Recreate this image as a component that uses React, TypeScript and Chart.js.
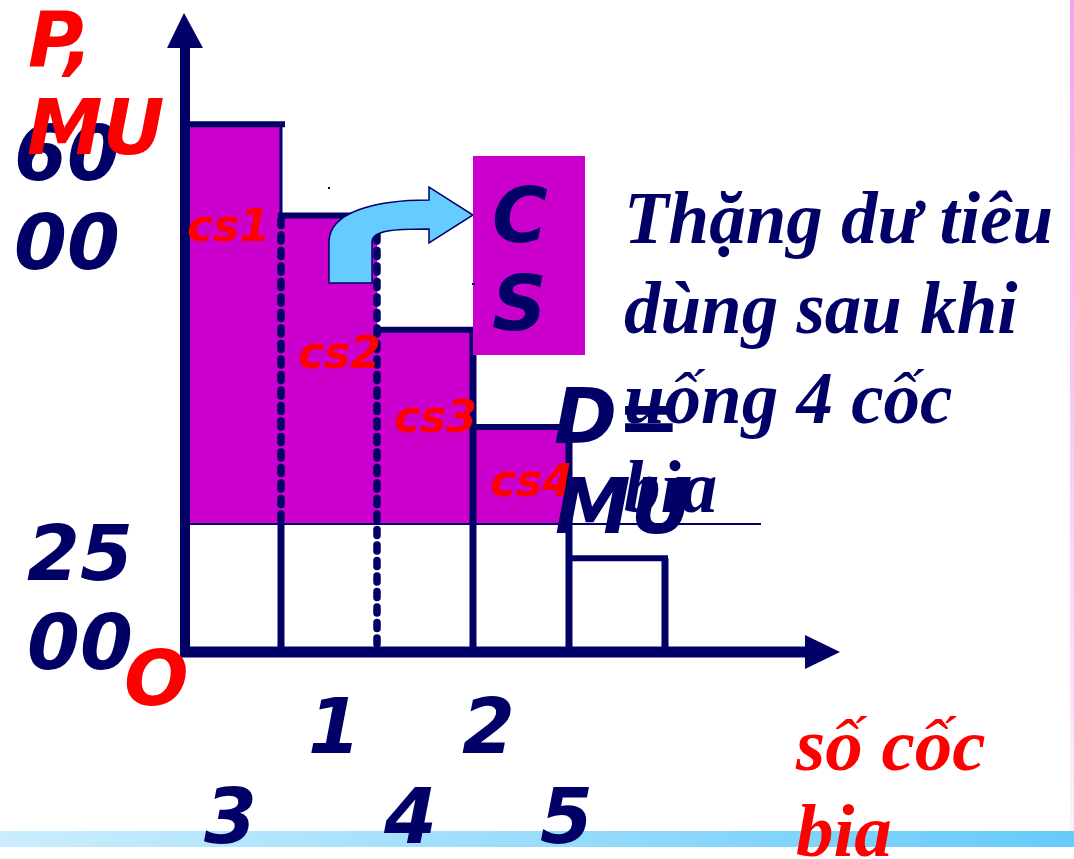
import React, { useEffect, useRef } from 'react';
import { Chart, registerables } from 'chart.js';

Chart.register(...registerables);

// ---- data ----
const cups = [1, 2, 3, 4, 5];
const marginalUtility = [6000, 5200, 4200, 3350, 2200];
const price = 2500;
const yTickValues = [6000, 2500];
const yTickLabels = [['60', '00'], ['25', '00']];
const xTickLabels = ['1', '2', '3', '4', '5'];
const csLabels = ['cs1', 'cs2', 'cs3', 'cs4'];
const yAxisTitle = ['P,', 'MU'];
const xAxisTitle = ['số cốc', 'bia'];
const demandLabel = ['D=', 'MU'];
const csBoxLabel = ['C', 'S'];
const noteLines = ['Thặng dư tiêu', 'dùng sau khi', 'uống 4 cốc', 'bia'];
const originLabel = 'O';

const NAVY = '#000066';
const MAGENTA = '#CC00CC';
const RED = '#FF0000';
const SANS = '"DejaVu Sans", Verdana, sans-serif';
const SERIF = '"Liberation Serif", "Times New Roman", serif';

const decoPlugin = {
  id: 'deco',
  beforeDraw(chart: any) {
    const ctx = chart.ctx as CanvasRenderingContext2D;
    const W = chart.width, H = chart.height;
    ctx.save();
    ctx.fillStyle = '#ffffff';
    ctx.fillRect(0, 0, W, H);
    const g = ctx.createLinearGradient(0, 0, W, 0);
    g.addColorStop(0, '#cbedfd');
    g.addColorStop(1, '#66cbfa');
    ctx.fillStyle = g;
    ctx.fillRect(0, 831, W, 16);
    const p = ctx.createLinearGradient(0, 0, 0, 831);
    p.addColorStop(0, '#f3a2ef');
    p.addColorStop(1, '#fdf0fc');
    ctx.fillStyle = p;
    ctx.fillRect(W - 4, 0, 4, 831);
    ctx.restore();
  },
  afterDatasetsDraw(chart: any) {
    const ctx = chart.ctx as CanvasRenderingContext2D;
    const xs = chart.scales.x, ys = chart.scales.y;
    const X = (v: number) => xs.getPixelForValue(v);
    const Y = (v: number) => ys.getPixelForValue(v);
    const base = ys.bottom;
    const line = (x1: number, y1: number, x2: number, y2: number, w: number, dash: number[] = [], cap: CanvasLineCap = 'butt') => {
      ctx.save();
      ctx.strokeStyle = NAVY;
      ctx.lineWidth = w;
      ctx.setLineDash(dash);
      ctx.lineCap = cap;
      ctx.beginPath();
      ctx.moveTo(x1, y1);
      ctx.lineTo(x2, y2);
      ctx.stroke();
      ctx.restore();
    };
    const dotted = (x: number, y1: number, y2: number) => line(x, y1 + 4, x, y2 - 4, 7.5, [6, 9.5], 'round');

    // price line
    line(X(0), Y(price), X(6), Y(price), 2);

    // bar tops
    marginalUtility.forEach((m, i) => {
      line(X(i) - (i === 0 ? 4 : 3), Y(m), X(i + 1) + (i === 0 ? 4 : 3), Y(m), 6);
    });

    // vertical edges (right side of each bar)
    marginalUtility.forEach((m, i) => {
      const xr = X(i + 1);
      if (i === 0) {
        line(xr, Y(m), xr, Y(marginalUtility[1]), 3);
        dotted(xr, Y(marginalUtility[1]), Y(price));
        line(xr, Y(price), xr, base, 7);
      } else if (i === 1) {
        dotted(xr, Y(m), base);
      } else {
        line(xr, Y(m), xr, base, 7);
      }
    });

    // axes with arrows
    const ax = X(0);
    line(ax, base + 5, ax, ys.top + 36, 10);
    line(ax - 5, base, xs.right - 34, base, 11);
    ctx.save();
    ctx.fillStyle = NAVY;
    ctx.beginPath();
    ctx.moveTo(ax - 1, ys.top + 3);
    ctx.lineTo(ax - 18, ys.top + 38);
    ctx.lineTo(ax + 18, ys.top + 38);
    ctx.closePath();
    ctx.fill();
    ctx.beginPath();
    ctx.moveTo(xs.right, base);
    ctx.lineTo(xs.right - 35, base - 17);
    ctx.lineTo(xs.right - 35, base + 17);
    ctx.closePath();
    ctx.fill();
    ctx.restore();

    // curved block arrow
    ctx.save();
    ctx.beginPath();
    ctx.moveTo(329, 283);
    ctx.lineTo(329, 242);
    ctx.bezierCurveTo(329, 212, 375, 200, 429, 200);
    ctx.lineTo(429, 187);
    ctx.lineTo(473, 215);
    ctx.lineTo(429, 243);
    ctx.lineTo(429, 229);
    ctx.bezierCurveTo(395, 229, 372, 230, 372, 242);
    ctx.lineTo(372, 283);
    ctx.closePath();
    ctx.fillStyle = '#66CCFF';
    ctx.fill();
    ctx.strokeStyle = NAVY;
    ctx.lineWidth = 1.5;
    ctx.stroke();
    // CS box
    ctx.fillStyle = MAGENTA;
    ctx.fillRect(473, 156, 112, 199);
    // tiny stray marks
    ctx.fillStyle = NAVY;
    ctx.fillRect(328, 187, 2, 2);
    ctx.fillRect(472, 283, 3, 2);
    ctx.restore();

    const txt = (s: string, x: number, y: number, font: string, color: string) => {
      ctx.save();
      ctx.font = font;
      ctx.fillStyle = color;
      ctx.textBaseline = 'alphabetic';
      ctx.textAlign = 'left';
      ctx.fillText(s, x, y);
      ctx.restore();
    };
    const big = `italic bold 76px ${SANS}`;
    const small = `italic bold 44px ${SANS}`;
    const serif = `italic bold 73px ${SERIF}`;
    const serifRed = `italic bold 75px ${SERIF}`;

    // cs labels
    const csPos = [[187, 241], [298, 368], [394, 432], [490, 496]];
    csLabels.forEach((s, i) => txt(s, csPos[i][0], csPos[i][1], small, RED));

    // y tick labels (top of text at tick value)
    const yTickX = [14, 27];
    yTickValues.forEach((v, i) => {
      const top = Y(v);
      txt(yTickLabels[i][0], yTickX[i], top + 56, big, NAVY);
      txt(yTickLabels[i][1], yTickX[i], top + 145, big, NAVY);
    });

    // x tick labels (wrapped text box)
    const xPos = [[308, 753], [462, 753], [204, 843], [384, 843], [540, 843]];
    xTickLabels.forEach((s, i) => txt(s, xPos[i][0], xPos[i][1], big, NAVY));

    txt(originLabel, 124, 705, big, RED);
    txt(yAxisTitle[0], 28, 66, big, RED);
    txt(yAxisTitle[1], 27, 154, big, RED);

    txt(csBoxLabel[0], 492, 242, big, NAVY);
    txt(csBoxLabel[1], 492, 330, big, NAVY);

    const noteY = [243, 333, 423, 512];
    noteLines.forEach((s, i) => txt(s, 624, noteY[i], serif, NAVY));

    txt(demandLabel[0], 554, 443, big, NAVY);
    txt(demandLabel[1], 555, 533, big, NAVY);

    txt(xAxisTitle[0], 796, 770, serifRed, RED);
    txt(xAxisTitle[1], 796, 856, serifRed, RED);
  },
};

export default function App() {
  const ref = useRef<HTMLCanvasElement>(null);
  useEffect(() => {
    const canvas = ref.current;
    if (!canvas) return;
    const chart = new Chart(canvas, {
      type: 'bar',
      data: {
        datasets: [
          {
            label: 'Thặng dư tiêu dùng (CS)',
            data: marginalUtility
              .map((m, i) => ({ x: cups[i] - 0.5, y: [price, m] as any }))
              .filter((d) => d.y[1] > price) as any,
            backgroundColor: MAGENTA,
            borderWidth: 0,
            grouped: false,
            barPercentage: 1,
            categoryPercentage: 1,
          } as any,
          {
            label: 'Giá P',
            data: marginalUtility.map((m, i) => ({ x: cups[i] - 0.5, y: Math.min(m, price) })) as any,
            backgroundColor: '#FFFFFF',
            borderWidth: 0,
            grouped: false,
            barPercentage: 1,
            categoryPercentage: 1,
          } as any,
        ],
      },
      options: {
        animation: false,
        responsive: false,
        maintainAspectRatio: false,
        layout: { padding: { left: 185, right: 234, top: 10, bottom: 207 } },
        scales: {
          x: { type: 'linear', offset: false, min: 0, max: 6.823, display: false, ticks: { stepSize: 1, includeBounds: false } as any },
          y: { type: 'linear', min: 1380, max: 7000, display: false },
        },
        plugins: { legend: { display: false }, tooltip: { enabled: false } },
      },
      plugins: [decoPlugin],
    });
    return () => chart.destroy();
  }, []);
  return (
    <div style={{ position: 'absolute', left: 0, top: 0, width: 1074, height: 859, background: '#fff' }}>
      <canvas ref={ref} width={1074} height={859} style={{ display: 'block', width: 1074, height: 859 }} />
    </div>
  );
}
